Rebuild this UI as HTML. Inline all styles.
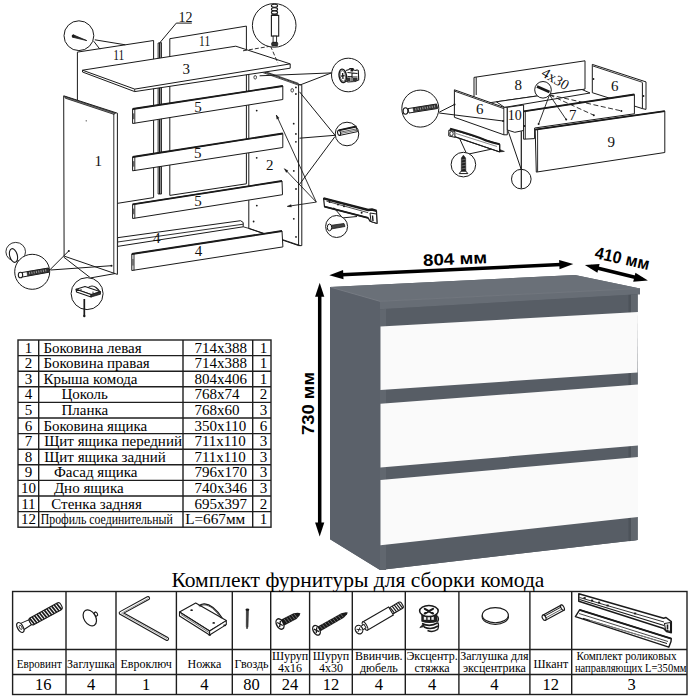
<!DOCTYPE html>
<html><head><meta charset="utf-8"><style>
html,body{margin:0;padding:0;background:#fff;}
svg{display:block;}
</style></head><body>
<svg width="689" height="700" viewBox="0 0 689 700">
<rect width="689" height="700" fill="#fff"/>
<polygon points="330,287 575,275 640,288.5 640,294.3 637.5,294.3 637.5,540 380,570 330,539.2" fill="#5c626a" stroke="none" stroke-width="0" />
<polygon points="330,287 380,301.3 380,570 330,539.2" fill="#5b616a" stroke="none" stroke-width="0" />
<polygon points="330,287 575,275 640,288.5 380,301.3" fill="#6a7078" stroke="none" stroke-width="0" />
<polygon points="380,301.3 640,288.5 640,294.3 380,309.3" fill="#676d75" stroke="none" stroke-width="0" />
<polygon points="380,309.3 637.5,294.3 637.5,540 380,570" fill="#575d65" stroke="none" stroke-width="0" />
<line x1="331" y1="287.3" x2="380" y2="301.3" stroke="#767b83" stroke-width="1"/>
<line x1="380" y1="301.3" x2="640" y2="288.5" stroke="#737880" stroke-width="0.8"/>
<polygon points="380,309.3 386,309 386,570 380,570" fill="#61676f" stroke="none" stroke-width="0" />
<polygon points="631,294.7 637.5,294.3 637.5,540 631,541" fill="#61676e" stroke="none" stroke-width="0" />
<polygon points="628.5,294.9 631,294.7 631,541 628.5,541.3" fill="#4d535a" stroke="none" stroke-width="0" />
<polygon points="380.5,326.6 638,312 637.5,372.4 380.5,390" fill="#fafafa" stroke="none" stroke-width="0" />
<polygon points="380.5,403.75 638,384.6 638,445.5 380.5,467.5" fill="#fafafa" stroke="none" stroke-width="0" />
<polygon points="380.5,480 638,457 638,517 380.5,545.3" fill="#fafafa" stroke="none" stroke-width="0" />
<line x1="336" y1="275" x2="566" y2="264.3" stroke="#000" stroke-width="3.5"/>
<polygon points="329.3,275.3 343.4978155398287,279.2474085039426 343.0722061350684,270.05725852504787" fill="#000" stroke="none" stroke-width="0" />
<polygon points="573.3,264 559.1021844601712,260.0525914960574 559.5277938649315,269.24274147495214" fill="#000" stroke="none" stroke-width="0" />
<line x1="591" y1="266.5" x2="642" y2="279" stroke="#000" stroke-width="3.5"/>
<polygon points="584.9,265 597.383918926966,272.83018315398425 599.5952292108303,263.89989162299395" fill="#000" stroke="none" stroke-width="0" />
<polygon points="647.9,280.6 635.416081073034,272.7698168460158 633.2047707891696,281.7001083770061" fill="#000" stroke="none" stroke-width="0" />
<line x1="319.7" y1="290" x2="319.7" y2="530" stroke="#000" stroke-width="3.5"/>
<polygon points="319.7,282.8 315.09999999999997,296.8 324.3,296.8" fill="#000" stroke="none" stroke-width="0" />
<polygon points="319.7,536.6 324.3,522.6 315.09999999999997,522.6" fill="#000" stroke="none" stroke-width="0" />
<text x="423" y="264.5" font-family="Liberation Sans" font-weight="bold" font-size="16.5" textLength="64" lengthAdjust="spacingAndGlyphs" transform="rotate(-2.6 455 258)">804 мм</text>
<text x="0" y="0" font-family="Liberation Sans" font-weight="bold" font-size="17" textLength="55.5" lengthAdjust="spacingAndGlyphs" transform="translate(594,258) rotate(12.5)">410 мм</text>
<text x="0" y="0" font-family="Liberation Sans" font-weight="bold" font-size="16.5" textLength="63" lengthAdjust="spacingAndGlyphs" transform="translate(314,435) rotate(-90)">730 мм</text>
<rect x="18" y="340" width="253" height="187.20000000000005" fill="none" stroke="#1e1e1e" stroke-width="1.4"/>
<line x1="38.7" y1="340" x2="38.7" y2="527.2" stroke="#1e1e1e" stroke-width="1.4"/>
<line x1="183" y1="340" x2="183" y2="527.2" stroke="#1e1e1e" stroke-width="1.4"/>
<line x1="252.7" y1="340" x2="252.7" y2="527.2" stroke="#1e1e1e" stroke-width="1.4"/>
<line x1="18" y1="355.60" x2="271" y2="355.60" stroke="#1e1e1e" stroke-width="1.4"/>
<line x1="18" y1="371.20" x2="271" y2="371.20" stroke="#1e1e1e" stroke-width="1.4"/>
<line x1="18" y1="386.80" x2="271" y2="386.80" stroke="#1e1e1e" stroke-width="1.4"/>
<line x1="18" y1="402.40" x2="271" y2="402.40" stroke="#1e1e1e" stroke-width="1.4"/>
<line x1="18" y1="418.00" x2="271" y2="418.00" stroke="#1e1e1e" stroke-width="1.4"/>
<line x1="18" y1="433.60" x2="271" y2="433.60" stroke="#1e1e1e" stroke-width="1.4"/>
<line x1="18" y1="449.20" x2="271" y2="449.20" stroke="#1e1e1e" stroke-width="1.4"/>
<line x1="18" y1="464.80" x2="271" y2="464.80" stroke="#1e1e1e" stroke-width="1.4"/>
<line x1="18" y1="480.40" x2="271" y2="480.40" stroke="#1e1e1e" stroke-width="1.4"/>
<line x1="18" y1="496.00" x2="271" y2="496.00" stroke="#1e1e1e" stroke-width="1.4"/>
<line x1="18" y1="511.60" x2="271" y2="511.60" stroke="#1e1e1e" stroke-width="1.4"/>
<text x="28.4" y="352.50" font-family="Liberation Serif" font-size="15" text-anchor="middle">1</text>
<text x="43.4" y="352.50" font-family="Liberation Serif" font-size="15">Боковина левая</text>
<text x="194.4" y="352.50" font-family="Liberation Serif" font-size="15">714x388</text>
<text x="263.4" y="352.50" font-family="Liberation Serif" font-size="15" text-anchor="middle">1</text>
<text x="28.4" y="368.10" font-family="Liberation Serif" font-size="15" text-anchor="middle">2</text>
<text x="43.4" y="368.10" font-family="Liberation Serif" font-size="15">Боковина правая</text>
<text x="194.4" y="368.10" font-family="Liberation Serif" font-size="15">714x388</text>
<text x="263.4" y="368.10" font-family="Liberation Serif" font-size="15" text-anchor="middle">1</text>
<text x="28.4" y="383.70" font-family="Liberation Serif" font-size="15" text-anchor="middle">3</text>
<text x="43.4" y="383.70" font-family="Liberation Serif" font-size="15">Крыша комода</text>
<text x="194.4" y="383.70" font-family="Liberation Serif" font-size="15">804x406</text>
<text x="263.4" y="383.70" font-family="Liberation Serif" font-size="15" text-anchor="middle">1</text>
<text x="28.4" y="399.30" font-family="Liberation Serif" font-size="15" text-anchor="middle">4</text>
<text x="61.5" y="399.30" font-family="Liberation Serif" font-size="15">Цоколь</text>
<text x="194.4" y="399.30" font-family="Liberation Serif" font-size="15">768x74</text>
<text x="263.4" y="399.30" font-family="Liberation Serif" font-size="15" text-anchor="middle">2</text>
<text x="28.4" y="414.90" font-family="Liberation Serif" font-size="15" text-anchor="middle">5</text>
<text x="61.5" y="414.90" font-family="Liberation Serif" font-size="15">Планка</text>
<text x="194.4" y="414.90" font-family="Liberation Serif" font-size="15">768x60</text>
<text x="263.4" y="414.90" font-family="Liberation Serif" font-size="15" text-anchor="middle">3</text>
<text x="28.4" y="430.50" font-family="Liberation Serif" font-size="15" text-anchor="middle">6</text>
<text x="43.4" y="430.50" font-family="Liberation Serif" font-size="15">Боковина ящика</text>
<text x="194.4" y="430.50" font-family="Liberation Serif" font-size="15">350x110</text>
<text x="263.4" y="430.50" font-family="Liberation Serif" font-size="15" text-anchor="middle">6</text>
<text x="28.4" y="446.10" font-family="Liberation Serif" font-size="15" text-anchor="middle">7</text>
<text x="44.2" y="446.10" font-family="Liberation Serif" font-size="15">Щит ящика передний</text>
<text x="194.4" y="446.10" font-family="Liberation Serif" font-size="15">711x110</text>
<text x="263.4" y="446.10" font-family="Liberation Serif" font-size="15" text-anchor="middle">3</text>
<text x="28.4" y="461.70" font-family="Liberation Serif" font-size="15" text-anchor="middle">8</text>
<text x="44.2" y="461.70" font-family="Liberation Serif" font-size="15">Щит ящика задний</text>
<text x="194.4" y="461.70" font-family="Liberation Serif" font-size="15">711x110</text>
<text x="263.4" y="461.70" font-family="Liberation Serif" font-size="15" text-anchor="middle">3</text>
<text x="28.4" y="477.30" font-family="Liberation Serif" font-size="15" text-anchor="middle">9</text>
<text x="53.9" y="477.30" font-family="Liberation Serif" font-size="15">Фасад ящика</text>
<text x="194.4" y="477.30" font-family="Liberation Serif" font-size="15">796x170</text>
<text x="263.4" y="477.30" font-family="Liberation Serif" font-size="15" text-anchor="middle">3</text>
<text x="28.4" y="492.90" font-family="Liberation Serif" font-size="15" text-anchor="middle">10</text>
<text x="53.9" y="492.90" font-family="Liberation Serif" font-size="15">Дно ящика</text>
<text x="194.4" y="492.90" font-family="Liberation Serif" font-size="15">740x346</text>
<text x="263.4" y="492.90" font-family="Liberation Serif" font-size="15" text-anchor="middle">3</text>
<text x="28.4" y="508.50" font-family="Liberation Serif" font-size="15" text-anchor="middle">11</text>
<text x="51.3" y="508.50" font-family="Liberation Serif" font-size="15">Стенка задняя</text>
<text x="194.4" y="508.50" font-family="Liberation Serif" font-size="15">695x397</text>
<text x="263.4" y="508.50" font-family="Liberation Serif" font-size="15" text-anchor="middle">2</text>
<text x="28.4" y="524.10" font-family="Liberation Serif" font-size="15" text-anchor="middle">12</text>
<text x="40.8" y="524.10" font-family="Liberation Serif" font-size="14.5" textLength="132" lengthAdjust="spacingAndGlyphs">Профиль соединительный</text>
<text x="185.2" y="524.10" font-family="Liberation Serif" font-size="15" textLength="60" lengthAdjust="spacingAndGlyphs">L=667мм</text>
<text x="263.4" y="524.10" font-family="Liberation Serif" font-size="15" text-anchor="middle">1</text>
<rect x="12.6" y="591.5" width="674.4" height="103.0" fill="none" stroke="#1e1e1e" stroke-width="1.4"/>
<line x1="66" y1="591.5" x2="66" y2="694.5" stroke="#1e1e1e" stroke-width="1.4"/>
<line x1="116" y1="591.5" x2="116" y2="694.5" stroke="#1e1e1e" stroke-width="1.4"/>
<line x1="176.4" y1="591.5" x2="176.4" y2="694.5" stroke="#1e1e1e" stroke-width="1.4"/>
<line x1="232.3" y1="591.5" x2="232.3" y2="694.5" stroke="#1e1e1e" stroke-width="1.4"/>
<line x1="270.7" y1="591.5" x2="270.7" y2="694.5" stroke="#1e1e1e" stroke-width="1.4"/>
<line x1="309.6" y1="591.5" x2="309.6" y2="694.5" stroke="#1e1e1e" stroke-width="1.4"/>
<line x1="352.3" y1="591.5" x2="352.3" y2="694.5" stroke="#1e1e1e" stroke-width="1.4"/>
<line x1="405.3" y1="591.5" x2="405.3" y2="694.5" stroke="#1e1e1e" stroke-width="1.4"/>
<line x1="458.9" y1="591.5" x2="458.9" y2="694.5" stroke="#1e1e1e" stroke-width="1.4"/>
<line x1="529.9" y1="591.5" x2="529.9" y2="694.5" stroke="#1e1e1e" stroke-width="1.4"/>
<line x1="571.7" y1="591.5" x2="571.7" y2="694.5" stroke="#1e1e1e" stroke-width="1.4"/>
<line x1="12.6" y1="649.5" x2="687" y2="649.5" stroke="#1e1e1e" stroke-width="1.4"/>
<line x1="12.6" y1="674.5" x2="687" y2="674.5" stroke="#1e1e1e" stroke-width="1.4"/>
<text x="171.4" y="586.7" font-family="Liberation Serif" font-size="21.5" textLength="373" lengthAdjust="spacingAndGlyphs">Комплект фурнитуры для сборки комода</text>
<text x="39.3" y="667.5" font-family="Liberation Serif" font-size="12" text-anchor="middle" textLength="45" lengthAdjust="spacingAndGlyphs">Евровинт</text>
<text x="43.3" y="690" font-family="Liberation Serif" font-size="16.5" text-anchor="middle">16</text>
<text x="91.0" y="667.5" font-family="Liberation Serif" font-size="12" text-anchor="middle">Заглушка</text>
<text x="91.0" y="690" font-family="Liberation Serif" font-size="16.5" text-anchor="middle">4</text>
<text x="146.2" y="667.5" font-family="Liberation Serif" font-size="12" text-anchor="middle">Евроключ</text>
<text x="146.2" y="690" font-family="Liberation Serif" font-size="16.5" text-anchor="middle">1</text>
<text x="204.4" y="667.5" font-family="Liberation Serif" font-size="12" text-anchor="middle">Ножка</text>
<text x="204.4" y="690" font-family="Liberation Serif" font-size="16.5" text-anchor="middle">4</text>
<text x="251.5" y="667.5" font-family="Liberation Serif" font-size="12" text-anchor="middle">Гвоздь</text>
<text x="251.5" y="690" font-family="Liberation Serif" font-size="16.5" text-anchor="middle">80</text>
<text x="290.1" y="659.5" font-family="Liberation Serif" font-size="12" text-anchor="middle">Шуруп</text>
<text x="290.1" y="671.5" font-family="Liberation Serif" font-size="12" text-anchor="middle">4x16</text>
<text x="290.1" y="690" font-family="Liberation Serif" font-size="16.5" text-anchor="middle">24</text>
<text x="331.0" y="659.5" font-family="Liberation Serif" font-size="12" text-anchor="middle">Шуруп</text>
<text x="331.0" y="671.5" font-family="Liberation Serif" font-size="12" text-anchor="middle">4x30</text>
<text x="331.0" y="690" font-family="Liberation Serif" font-size="16.5" text-anchor="middle">12</text>
<text x="378.8" y="659.5" font-family="Liberation Serif" font-size="12" text-anchor="middle">Ввинчив.</text>
<text x="378.8" y="671.5" font-family="Liberation Serif" font-size="12" text-anchor="middle">дюбель</text>
<text x="378.8" y="690" font-family="Liberation Serif" font-size="16.5" text-anchor="middle">4</text>
<text x="432.1" y="659.5" font-family="Liberation Serif" font-size="12" text-anchor="middle">Эксцентр.</text>
<text x="432.1" y="671.5" font-family="Liberation Serif" font-size="12" text-anchor="middle">стяжка</text>
<text x="432.1" y="690" font-family="Liberation Serif" font-size="16.5" text-anchor="middle">4</text>
<text x="494.4" y="659.5" font-family="Liberation Serif" font-size="12" text-anchor="middle">Заглушка для</text>
<text x="494.4" y="671.5" font-family="Liberation Serif" font-size="12" text-anchor="middle">эксцентрика</text>
<text x="494.4" y="690" font-family="Liberation Serif" font-size="16.5" text-anchor="middle">4</text>
<text x="550.8" y="667.5" font-family="Liberation Serif" font-size="12" text-anchor="middle">Шкант</text>
<text x="550.8" y="690" font-family="Liberation Serif" font-size="16.5" text-anchor="middle">12</text>
<text x="626.5" y="659.5" font-family="Liberation Serif" font-size="12" text-anchor="middle" textLength="100" lengthAdjust="spacingAndGlyphs">Комплект роликовых</text>
<text x="630.7" y="671.5" font-family="Liberation Serif" font-size="12" text-anchor="middle" textLength="111.5" lengthAdjust="spacingAndGlyphs">направляющих L=350мм</text>
<text x="631.5" y="690" font-family="Liberation Serif" font-size="16.5" text-anchor="middle">3</text>
<polygon points="77.4,52.1 153.6,40.5 153.6,197.6 117.1,203.4 77.4,209" fill="#fff" stroke="#1a1a1a" stroke-width="1.0" stroke-linejoin="round" />
<polygon points="158.1,43 161.5,42.6 161.5,194 158.1,194" fill="#fff" stroke="#1a1a1a" stroke-width="0.9" stroke-linejoin="round" />
<line x1="159.7" y1="43" x2="159.7" y2="194" stroke="#1a1a1a" stroke-width="1.6" />
<polygon points="169.8,38.7 246.4,26.1 246.4,183.8 169.8,195.4" fill="#fff" stroke="#1a1a1a" stroke-width="1.0" stroke-linejoin="round" />
<polygon points="248.8,66.4 298.6,84.2 301.8,85.2 301.8,245.6 298.6,245.6 248.8,228.5" fill="#fff" stroke="#1a1a1a" stroke-width="1.0" stroke-linejoin="round" />
<line x1="251" y1="66.6" x2="298.6" y2="83.4" stroke="#1a1a1a" stroke-width="0.8" />
<line x1="251" y1="68.4" x2="298.6" y2="85.2" stroke="#1a1a1a" stroke-width="0.8" />
<line x1="252" y1="67.5" x2="298" y2="84.2" stroke="#555" stroke-width="1" stroke-dasharray="3 2"/>
<line x1="298.6" y1="84.2" x2="298.6" y2="245.6" stroke="#1a1a1a" stroke-width="1.0" />
<circle cx="256.8" cy="205.6" r="0.9" fill="#1a1a1a"/>
<circle cx="253.6" cy="221.5" r="0.9" fill="#1a1a1a"/>
<circle cx="293.8" cy="170.9" r="0.9" fill="#1a1a1a"/>
<circle cx="296" cy="189" r="0.9" fill="#1a1a1a"/>
<circle cx="293.8" cy="218.8" r="0.9" fill="#1a1a1a"/>
<circle cx="296" cy="236.9" r="0.9" fill="#1a1a1a"/>
<circle cx="256.7" cy="110.6" r="0.9" fill="#1a1a1a"/>
<circle cx="293.7" cy="123.7" r="0.9" fill="#1a1a1a"/>
<circle cx="295.9" cy="133.9" r="0.9" fill="#1a1a1a"/>
<circle cx="295.9" cy="141.8" r="0.9" fill="#1a1a1a"/>
<circle cx="256.7" cy="157.8" r="0.9" fill="#1a1a1a"/>
<circle cx="295.9" cy="94" r="0.9" fill="#1a1a1a"/>
<circle cx="295.9" cy="87.4" r="0.9" fill="#1a1a1a"/>
<ellipse cx="255.2" cy="77.3" rx="1.3" ry="1.8" fill="none" stroke="#1a1a1a" stroke-width="0.8"/>
<ellipse cx="292.2" cy="90.3" rx="1.3" ry="1.8" fill="none" stroke="#1a1a1a" stroke-width="0.8"/>
<polygon points="117.6,237.7 240.6,220.7 243.2,222.5 243.2,226.8 117.6,246.4" fill="#fff" stroke="#1a1a1a" stroke-width="1.0" stroke-linejoin="round" />
<line x1="117.6" y1="242" x2="243.2" y2="224.2" stroke="#1a1a1a" stroke-width="0.9" />
<line x1="243.2" y1="226.8" x2="249.3" y2="228.5" stroke="#1a1a1a" stroke-width="0.9" />
<line x1="249.3" y1="228.5" x2="300.3" y2="245.6" stroke="#1a1a1a" stroke-width="1.0" />
<polygon points="82.5,70.2 235.8,46.2 290.2,63.9 290.2,68.2 134.7,91.6 82.5,72" fill="#fff" stroke="#1a1a1a" stroke-width="1.0" stroke-linejoin="round" />
<polyline points="82.5,70.2 134.7,89.1 290.2,63.9" fill="none" stroke="#1a1a1a" stroke-width="1.0" stroke-linejoin="round" />
<line x1="134.7" y1="89.1" x2="134.7" y2="91.6" stroke="#1a1a1a" stroke-width="0.9" />
<polygon points="132.6,109 282.8,86 282.8,99.5 132.6,123.5" fill="#fff" stroke="#1a1a1a" stroke-width="1.0" stroke-linejoin="round" />
<line x1="132.6" y1="109" x2="282.8" y2="86" stroke="#1a1a1a" stroke-width="1.8" />
<line x1="134.79999999999998" y1="108.96311584553928" x2="134.79999999999998" y2="123.5" stroke="#1a1a1a" stroke-width="0.9" />
<rect x="133.2" y="113.35" width="1.1" height="5.80" fill="#444"/>
<polygon points="132.6,157 282.8,133.5 282.8,147.5 132.6,170.8" fill="#fff" stroke="#1a1a1a" stroke-width="1.0" stroke-linejoin="round" />
<line x1="132.6" y1="157" x2="282.8" y2="133.5" stroke="#1a1a1a" stroke-width="1.8" />
<line x1="134.79999999999998" y1="156.95579227696405" x2="134.79999999999998" y2="170.8" stroke="#1a1a1a" stroke-width="0.9" />
<rect x="133.2" y="161.14" width="1.1" height="5.52" fill="#444"/>
<polygon points="132.6,204.3 282,181 282.5,194.7 132.6,218.5" fill="#fff" stroke="#1a1a1a" stroke-width="1.0" stroke-linejoin="round" />
<line x1="132.6" y1="204.3" x2="282" y2="181" stroke="#1a1a1a" stroke-width="1.8" />
<line x1="134.79999999999998" y1="204.25689424364126" x2="134.79999999999998" y2="218.5" stroke="#1a1a1a" stroke-width="0.9" />
<rect x="133.2" y="208.56" width="1.1" height="5.68" fill="#444"/>
<polygon points="131.8,254 282,231 282.9,246.9 131.8,270.5" fill="#fff" stroke="#1a1a1a" stroke-width="1.0" stroke-linejoin="round" />
<line x1="131.8" y1="254" x2="282" y2="231" stroke="#1a1a1a" stroke-width="1.8" />
<line x1="134.0" y1="253.9631158455393" x2="134.0" y2="270.5" stroke="#1a1a1a" stroke-width="0.9" />
<rect x="132.4" y="258.95" width="1.1" height="6.60" fill="#444"/>
<polygon points="63.7,95.8 117.4,113.2 117.4,274.4 64.1,256.1" fill="#fff" stroke="#1a1a1a" stroke-width="1.0" stroke-linejoin="round" />
<polygon points="64.5,96.5 115.5,113.3 113.8,114.3 65.3,98.2" fill="#888" stroke="#1a1a1a" stroke-width="0.8" stroke-linejoin="round" />
<line x1="113.8" y1="114" x2="113.8" y2="273.2" stroke="#1a1a1a" stroke-width="0.9" />
<circle cx="86.2" cy="120.8" r="0.6" fill="#1a1a1a"/>
<text x="118.8" y="59.5" font-family="Liberation Serif" font-size="14.5" text-anchor="middle" fill="#111" textLength="11" lengthAdjust="spacingAndGlyphs">11</text>
<text x="204.6" y="46.3" font-family="Liberation Serif" font-size="14.5" text-anchor="middle" fill="#111" textLength="11" lengthAdjust="spacingAndGlyphs">11</text>
<text x="186.2" y="74.2" font-family="Liberation Serif" font-size="15" text-anchor="middle" fill="#111" >3</text>
<text x="98.3" y="165.7" font-family="Liberation Serif" font-size="15" text-anchor="middle" fill="#111" >1</text>
<text x="198" y="111.9" font-family="Liberation Serif" font-size="15" text-anchor="middle" fill="#111" >5</text>
<text x="197.8" y="158.4" font-family="Liberation Serif" font-size="15" text-anchor="middle" fill="#111" >5</text>
<text x="198" y="206.4" font-family="Liberation Serif" font-size="15" text-anchor="middle" fill="#111" >5</text>
<text x="156.8" y="242.9" font-family="Liberation Serif" font-size="15" text-anchor="middle" fill="#111" >4</text>
<text x="198.5" y="255.7" font-family="Liberation Serif" font-size="15" text-anchor="middle" fill="#111" >4</text>
<text x="269.8" y="170" font-family="Liberation Serif" font-size="15" text-anchor="middle" fill="#111" >2</text>
<text x="185.5" y="21.8" font-family="Liberation Serif" font-size="14" text-anchor="middle" fill="#111" >12</text>
<polyline points="159.6,43 176.3,23.1 191.8,23.1" fill="none" stroke="#1a1a1a" stroke-width="1.0" stroke-linejoin="round" />
<line x1="94.8" y1="39.8" x2="125.3" y2="44.8" stroke="#1a1a1a" stroke-width="1.0" />
<line x1="93.7" y1="41.2" x2="99.9" y2="49.2" stroke="#1a1a1a" stroke-width="1.0" />
<circle cx="78.9" cy="35.7" r="14.9" fill="#fff" stroke="#1a1a1a" stroke-width="1.0"/>
<path d="M73.2,34.8 L86.8,40.6 L72.6,37.2 Z" fill="#2a2a2a" stroke="#1a1a1a" stroke-width="0.8" stroke-linejoin="round"/>
<circle cx="73.2" cy="36" r="1.5" fill="#1a1a1a"/>
<line x1="243" y1="50.8" x2="270.6" y2="46.2" stroke="#1a1a1a" stroke-width="0.9" stroke-dasharray="4 2"/>
<line x1="270.6" y1="46.2" x2="277.9" y2="63.1" stroke="#1a1a1a" stroke-width="0.9" stroke-dasharray="4 2"/>
<circle cx="274.2" cy="25.4" r="21.8" fill="#fff" stroke="#1a1a1a" stroke-width="1.0"/>
<rect x="271.4" y="15.4" width="7.3" height="20.7" fill="#fff" stroke="#1a1a1a" stroke-width="1.1"/>
<rect x="273.1" y="36.1" width="3.5" height="6.4" fill="#fff" stroke="#1a1a1a" stroke-width="0.9"/>
<rect x="271.7" y="42.3" width="6" height="3.6" rx="1" fill="#333" stroke="#1a1a1a" stroke-width="0.8"/>
<ellipse cx="274.5" cy="5.8" rx="3.1" ry="1.6" fill="#fff" stroke="#1a1a1a" stroke-width="1.1"/>
<ellipse cx="274.5" cy="9.2" rx="3.1" ry="1.6" fill="#fff" stroke="#1a1a1a" stroke-width="1.1"/>
<ellipse cx="274.5" cy="12.5" rx="3.1" ry="1.6" fill="#fff" stroke="#1a1a1a" stroke-width="1.1"/>
<rect x="271.4" y="14.2" width="6.5" height="1.6" fill="#1a1a1a"/>
<line x1="259.6" y1="75.8" x2="331.4" y2="72.9" stroke="#1a1a1a" stroke-width="1.0" />
<line x1="299.5" y1="85.2" x2="331.4" y2="72.9" stroke="#1a1a1a" stroke-width="1.0" />
<circle cx="348.3" cy="75" r="16.8" fill="#fff" stroke="#1a1a1a" stroke-width="1.0"/>
<path d="M346,70.5 L349,69.5 L350,68.5 L353,68.5 L353.5,70 L356,70.5 L357,69.8 L358.3,70.5 L358.7,80 L355,81.5 L348,82 L346,81" fill="#fff" stroke="#1a1a1a" stroke-width="1.1"/>
<rect x="350.5" y="68.5" width="2.6" height="3" fill="#1a1a1a"/>
<path d="M347.5,72.5 L357.5,73.5 M347.5,76.5 L357.5,77 M352,73 L352,81.5" stroke="#1a1a1a" stroke-width="1.1" fill="none"/>
<rect x="347" y="77.5" width="3.5" height="3.8" fill="#333"/>
<rect x="353" y="78" width="4.5" height="3" fill="#333"/>
<ellipse cx="342.8" cy="75.9" rx="3.7" ry="6.8" fill="#fff" stroke="#1a1a1a" stroke-width="1.4" transform="rotate(-8 342.8 75.9)"/>
<ellipse cx="342.8" cy="75.9" rx="2.6" ry="5.4" fill="none" stroke="#1a1a1a" stroke-width="0.6" transform="rotate(-8 342.8 75.9)"/>
<line x1="341" y1="76.2" x2="344.6" y2="75.6" stroke="#1a1a1a" stroke-width="1.3" />
<line x1="342.6" y1="73" x2="343" y2="79" stroke="#1a1a1a" stroke-width="1.3" />
<line x1="299.5" y1="91.8" x2="335" y2="135.3" stroke="#1a1a1a" stroke-width="1.0" />
<line x1="299.5" y1="138.2" x2="335" y2="135.3" stroke="#1a1a1a" stroke-width="1.0" />
<line x1="299" y1="185" x2="335" y2="136.5" stroke="#1a1a1a" stroke-width="1.0" />
<circle cx="347" cy="134" r="11.8" fill="#fff" stroke="#1a1a1a" stroke-width="1.0"/>
<polygon points="338.6,130.3 356,126.6 357.6,131.6 339.8,135.4" fill="#fff" stroke="#1a1a1a" stroke-width="1.0" stroke-linejoin="round" />
<line x1="338.6" y1="130.3" x2="356.5" y2="126.5" stroke="#1a1a1a" stroke-width="1.8" />
<line x1="341" y1="132" x2="357" y2="128.8" stroke="#1a1a1a" stroke-width="0.7" />
<line x1="341" y1="133.4" x2="357" y2="130.2" stroke="#1a1a1a" stroke-width="0.6" />
<ellipse cx="339.1" cy="132.9" rx="1.5" ry="2.5" fill="#fff" stroke="#1a1a1a" stroke-width="1.1" transform="rotate(-12 339.1 132.9)"/>
<line x1="316.3" y1="202.1" x2="276.3" y2="115" stroke="#1a1a1a" stroke-width="0.9" /><polygon points="276.3,115 279.1507259547731,118.0924685173471 276.78797149985263,119.17754519010046" fill="#1a1a1a" stroke="#1a1a1a" stroke-width="0.3" stroke-linejoin="round" />
<line x1="316.3" y1="202.1" x2="284.4" y2="168.7" stroke="#1a1a1a" stroke-width="0.9" /><polygon points="284.4,168.7 288.10283336568335,170.69474937422763 286.22262023578077,172.4905217947035" fill="#1a1a1a" stroke="#1a1a1a" stroke-width="0.3" stroke-linejoin="round" />
<line x1="316.3" y1="202.1" x2="287.3" y2="206.4" stroke="#1a1a1a" stroke-width="0.9" /><polygon points="287.3,206.4 291.0660665991887,204.52737019929845 291.4474145258161,207.099251564925" fill="#1a1a1a" stroke="#1a1a1a" stroke-width="0.3" stroke-linejoin="round" />
<polygon points="323.6,198.4 368.1,210 371.9,209.5 376.5,210.9 377,223.4 370,221.1 368.1,217.9 324.5,206.7" fill="#fff" stroke="#1a1a1a" stroke-width="1.2" stroke-linejoin="round" />
<polyline points="323.6,198.4 368.1,210 371.9,209.5 376.5,210.9" fill="none" stroke="#1a1a1a" stroke-width="2.4" stroke-linejoin="round" />
<line x1="324.5" y1="206.7" x2="368.1" y2="217.9" stroke="#1a1a1a" stroke-width="1.8" />
<line x1="326.4" y1="201.1" x2="368.1" y2="212.7" stroke="#1a1a1a" stroke-width="0.8" />
<circle cx="329.6" cy="202.1" r="1.0" fill="#1a1a1a"/>
<circle cx="338" cy="204.4" r="1.0" fill="#1a1a1a"/>
<circle cx="344" cy="206.2" r="1.0" fill="#1a1a1a"/>
<circle cx="361.6" cy="212.7" r="1.0" fill="#1a1a1a"/>
<polygon points="370,213 376.5,214 377,223.4 371,221.5" fill="#fff" stroke="#1a1a1a" stroke-width="1.0" stroke-linejoin="round" />
<line x1="372.5" y1="215.5" x2="373" y2="221" stroke="#1a1a1a" stroke-width="1.4" />
<line x1="333.8" y1="207.6" x2="342.6" y2="217.9" stroke="#1a1a1a" stroke-width="1.0" />
<line x1="342.6" y1="217.9" x2="357" y2="216.5" stroke="#1a1a1a" stroke-width="1.0" />
<circle cx="336.6" cy="226.5" r="11" fill="#fff" stroke="#1a1a1a" stroke-width="1.0"/>
<polygon points="330,225.5 344,223.5 345,226.5 331,229" fill="#444" stroke="#1a1a1a" stroke-width="0.8" stroke-linejoin="round" />
<ellipse cx="329.5" cy="227.4" rx="2.2" ry="3.4" fill="#fff" stroke="#1a1a1a" stroke-width="1"/>
<line x1="49.7" y1="270" x2="68.8" y2="250.9" stroke="#1a1a1a" stroke-width="1.0" />
<circle cx="68.8" cy="250.9" r="1" fill="#1a1a1a"/>
<line x1="50.5" y1="270" x2="111.5" y2="265.7" stroke="#1a1a1a" stroke-width="1.0" />
<circle cx="111.5" cy="265.7" r="1" fill="#1a1a1a"/>
<line x1="63.6" y1="257" x2="90.6" y2="277.9" stroke="#1a1a1a" stroke-width="1.0" />
<line x1="90.6" y1="277.9" x2="115" y2="273.6" stroke="#1a1a1a" stroke-width="1.0" />
<ellipse cx="15.7" cy="251.8" rx="9.8" ry="9.4" fill="none" stroke="#1a1a1a" stroke-width="0.9"/>
<ellipse cx="13.5" cy="255.5" rx="3.8" ry="7" fill="#fff" stroke="#1a1a1a" stroke-width="1.1" transform="rotate(-15 13.5 255.5)"/>
<circle cx="32.2" cy="271.8" r="17.5" fill="#fff" stroke="#1a1a1a" stroke-width="1.0"/>
<polygon points="22,272.5 48.5,268 49,272.2 22.5,277" fill="#fff" stroke="#1a1a1a" stroke-width="1" stroke-linejoin="round" />
<polygon points="27,271.8 48,268.3 48.6,272 27.6,275.8" fill="#333" stroke="#1a1a1a" stroke-width="0.6" stroke-linejoin="round" />
<line x1="29.40" y1="272.05" x2="29.70" y2="274.25" stroke="#ddd" stroke-width="0.6"/>
<line x1="31.71" y1="271.67" x2="32.01" y2="273.87" stroke="#ddd" stroke-width="0.6"/>
<line x1="34.02" y1="271.28" x2="34.32" y2="273.48" stroke="#ddd" stroke-width="0.6"/>
<line x1="36.33" y1="270.90" x2="36.63" y2="273.10" stroke="#ddd" stroke-width="0.6"/>
<line x1="38.64" y1="270.51" x2="38.94" y2="272.71" stroke="#ddd" stroke-width="0.6"/>
<line x1="40.95" y1="270.13" x2="41.25" y2="272.33" stroke="#ddd" stroke-width="0.6"/>
<line x1="43.26" y1="269.74" x2="43.56" y2="271.94" stroke="#ddd" stroke-width="0.6"/>
<line x1="45.57" y1="269.36" x2="45.87" y2="271.56" stroke="#ddd" stroke-width="0.6"/>
<ellipse cx="20.5" cy="275" rx="2.2" ry="2.8" fill="#fff" stroke="#1a1a1a" stroke-width="1.1"/>
<circle cx="87.1" cy="293.6" r="16" fill="#fff" stroke="#1a1a1a" stroke-width="1.0"/>
<polygon points="76.1,289.3 85,286.5 100.5,291.8 91,294.6" fill="#fff" stroke="#1a1a1a" stroke-width="1.1" stroke-linejoin="round" />
<polygon points="76.1,289.3 91,294.6 91,297 76.5,291.9" fill="#fff" stroke="#1a1a1a" stroke-width="1.1" stroke-linejoin="round" />
<polygon points="91,294.6 100.5,291.8 100.5,294.2 91,297" fill="#333" stroke="#1a1a1a" stroke-width="0.8" stroke-linejoin="round" />
<path d="M88,287.6 Q92,284.5 96,287.5 Q98.5,289.5 99.5,291.3" fill="none" stroke="#1a1a1a" stroke-width="1.1"/>
<circle cx="81" cy="289.5" r="0.6" fill="#1a1a1a"/>
<circle cx="93" cy="292.2" r="0.6" fill="#1a1a1a"/>
<line x1="84.3" y1="299" x2="84.3" y2="315.5" stroke="#1a1a1a" stroke-width="1.7" />
<circle cx="84.3" cy="316" r="1.2" fill="#1a1a1a"/>
<polygon points="474,77.4 585,60.8 585,89.1 474,105" fill="#fff" stroke="#1a1a1a" stroke-width="1.0" stroke-linejoin="round" />
<line x1="476.2" y1="77.2" x2="476.2" y2="95" stroke="#1a1a1a" stroke-width="1.0" />
<polygon points="592.3,64.4 646,81.9 646,109.4 642.4,108.6 592.3,92.7" fill="#fff" stroke="#1a1a1a" stroke-width="1.0" stroke-linejoin="round" />
<line x1="593" y1="66" x2="642.4" y2="82.3" stroke="#1a1a1a" stroke-width="0.9" />
<line x1="642.4" y1="82.6" x2="642.4" y2="108.6" stroke="#1a1a1a" stroke-width="1.0" />
<circle cx="593.5" cy="79" r="0.9" fill="#1a1a1a"/>
<circle cx="643.5" cy="96" r="0.9" fill="#1a1a1a"/>
<polygon points="496.4,101.8 582,89.5 590,93 504.6,107.4" fill="#fff" stroke="#1a1a1a" stroke-width="1.0" stroke-linejoin="round" />
<polygon points="454.4,89.8 503.8,107.3 507.3,107.3 507.3,134.8 503.9,134.8 454.4,117.3" fill="#fff" stroke="#1a1a1a" stroke-width="1.0" stroke-linejoin="round" />
<line x1="455" y1="91.3" x2="503.8" y2="108.6" stroke="#1a1a1a" stroke-width="0.9" />
<line x1="503.8" y1="107.3" x2="503.8" y2="134.8" stroke="#1a1a1a" stroke-width="0.9" />
<circle cx="454.5" cy="104.4" r="1" fill="#1a1a1a"/>
<circle cx="503.1" cy="121" r="1" fill="#1a1a1a"/>
<polygon points="507.3,107.3 523.6,105 523.6,130.5 514.8,132.3 507.3,130" fill="#fff" stroke="#1a1a1a" stroke-width="1.0" stroke-linejoin="round" />
<polygon points="523.6,111.4 634.4,94.5 634.4,113.8 534.6,128 534.6,138.6 523.6,139.2" fill="#fff" stroke="#1a1a1a" stroke-width="1.0" stroke-linejoin="round" />
<line x1="523.6" y1="111.4" x2="634.4" y2="94.5" stroke="#1a1a1a" stroke-width="1.8" />
<line x1="525.3" y1="112" x2="525.3" y2="139" stroke="#1a1a1a" stroke-width="0.9" />
<circle cx="524.5" cy="126" r="0.9" fill="#1a1a1a"/>
<polygon points="535.2,129.6 664.8,111.1 664.8,152.5 536.3,172.1" fill="#fff" stroke="#1a1a1a" stroke-width="1.0" stroke-linejoin="round" />
<line x1="535.2" y1="129.6" x2="664.8" y2="111.1" stroke="#1a1a1a" stroke-width="1.8" />
<line x1="537.6" y1="130" x2="537.6" y2="171.8" stroke="#1a1a1a" stroke-width="0.9" />
<line x1="549.5" y1="94.9" x2="538.6" y2="123.9" stroke="#1a1a1a" stroke-width="0.9" />
<circle cx="538.6" cy="123.9" r="1" fill="#1a1a1a"/>
<line x1="549.5" y1="94.9" x2="566.2" y2="119.6" stroke="#1a1a1a" stroke-width="0.9" />
<circle cx="566.2" cy="119.6" r="1" fill="#1a1a1a"/>
<line x1="549.5" y1="94.9" x2="621.4" y2="110.9" stroke="#1a1a1a" stroke-width="0.9" stroke-dasharray="5 2.5"/>
<circle cx="621.4" cy="110.9" r="1" fill="#1a1a1a"/>
<line x1="549.5" y1="94.9" x2="593.8" y2="115.2" stroke="#1a1a1a" stroke-width="0.9" stroke-dasharray="5 2.5"/>
<circle cx="593.8" cy="115.2" r="1" fill="#1a1a1a"/>
<circle cx="543" cy="89.8" r="8.3" fill="#fff" stroke="#1a1a1a" stroke-width="1.0"/>
<line x1="537" y1="86.5" x2="549.5" y2="92" stroke="#1a1a1a" stroke-width="2.6" />
<line x1="439.2" y1="112.2" x2="454.9" y2="104.3" stroke="#1a1a1a" stroke-width="1.0" />
<line x1="439.2" y1="113" x2="503.1" y2="121" stroke="#1a1a1a" stroke-width="1.0" />
<circle cx="420.3" cy="108.6" r="18.5" fill="#fff" stroke="#1a1a1a" stroke-width="1.0"/>
<polygon points="408,108.6 436.5,104 437.5,108.5 409,113" fill="#fff" stroke="#1a1a1a" stroke-width="1" stroke-linejoin="round" />
<polygon points="413,108 436.5,104.3 437.2,108.2 413.7,111.8" fill="#333" stroke="#1a1a1a" stroke-width="0.5" stroke-linejoin="round" />
<line x1="415.65" y1="108.23" x2="415.95" y2="110.43" stroke="#ddd" stroke-width="0.6"/>
<line x1="418.00" y1="107.86" x2="418.30" y2="110.06" stroke="#ddd" stroke-width="0.6"/>
<line x1="420.35" y1="107.49" x2="420.65" y2="109.69" stroke="#ddd" stroke-width="0.6"/>
<line x1="422.70" y1="107.12" x2="423.00" y2="109.32" stroke="#ddd" stroke-width="0.6"/>
<line x1="425.05" y1="106.75" x2="425.35" y2="108.95" stroke="#ddd" stroke-width="0.6"/>
<line x1="427.40" y1="106.38" x2="427.70" y2="108.58" stroke="#ddd" stroke-width="0.6"/>
<line x1="429.75" y1="106.01" x2="430.05" y2="108.21" stroke="#ddd" stroke-width="0.6"/>
<line x1="432.10" y1="105.64" x2="432.40" y2="107.84" stroke="#ddd" stroke-width="0.6"/>
<line x1="434.45" y1="105.27" x2="434.75" y2="107.47" stroke="#ddd" stroke-width="0.6"/>
<ellipse cx="405.5" cy="111" rx="2.4" ry="3.2" fill="#fff" stroke="#1a1a1a" stroke-width="1.1"/>
<polygon points="450.2,128.8 499.7,144.3 499.7,151.9 454.9,136.8 449,135" fill="#fff" stroke="#1a1a1a" stroke-width="1.0" stroke-linejoin="round" />
<path d="M450.2,128.8 Q475,135.5 486,140.5 Q492,142.5 499.7,144.3" fill="none" stroke="#1a1a1a" stroke-width="2.2"/>
<line x1="456" y1="133.5" x2="497" y2="146.5" stroke="#1a1a1a" stroke-width="0.5" />
<line x1="454.9" y1="136.8" x2="499.7" y2="151.9" stroke="#1a1a1a" stroke-width="1.1" />
<line x1="499.7" y1="144.3" x2="499.7" y2="151.9" stroke="#1a1a1a" stroke-width="1.1" />
<polygon points="499.7,151.9 504.4,151.4 499.7,149.5" fill="#1a1a1a" stroke="#1a1a1a" stroke-width="0.6" stroke-linejoin="round" />
<polygon points="448.8,130.2 454.9,131.5 454.9,137.3 448.8,136" fill="#fff" stroke="#1a1a1a" stroke-width="1.0" stroke-linejoin="round" />
<ellipse cx="451.5" cy="133.6" rx="1.7" ry="2.2" fill="none" stroke="#1a1a1a" stroke-width="0.9"/>
<line x1="459.6" y1="138.5" x2="466.9" y2="154.4" stroke="#1a1a1a" stroke-width="1.0" />
<line x1="466.9" y1="154.4" x2="490.8" y2="149.3" stroke="#1a1a1a" stroke-width="1.0" />
<circle cx="463.4" cy="164.6" r="12.3" fill="#fff" stroke="#1a1a1a" stroke-width="1.0"/>
<path d="M463.4,155.2 L465.6,158 L465.8,171.2 L461.3,171.2 L461.4,158 Z" fill="#222" stroke="#1a1a1a" stroke-width="0.6"/>
<line x1="461.6" y1="160" x2="465.6" y2="159.2" stroke="#aaa" stroke-width="0.5"/>
<line x1="461.6" y1="163" x2="465.6" y2="162.2" stroke="#aaa" stroke-width="0.5"/>
<line x1="461.6" y1="166" x2="465.6" y2="165.2" stroke="#aaa" stroke-width="0.5"/>
<line x1="461.6" y1="169" x2="465.6" y2="168.2" stroke="#aaa" stroke-width="0.5"/>
<polygon points="461,171.2 466,171.2 467.8,173.6 459.2,173.6" fill="#fff" stroke="#1a1a1a" stroke-width="1.0" stroke-linejoin="round" />
<line x1="508.2" y1="131.2" x2="521.3" y2="169.7" stroke="#1a1a1a" stroke-width="1.0" />
<circle cx="521.3" cy="179.1" r="9.8" fill="#fff" stroke="#1a1a1a" stroke-width="1.0"/>
<line x1="521.3" y1="131.2" x2="521.3" y2="188.5" stroke="#1a1a1a" stroke-width="1.2" />
<text x="518.3" y="89.9" font-family="Liberation Serif" font-size="15" text-anchor="middle" fill="#111" >8</text>
<text x="479.8" y="113.7" font-family="Liberation Serif" font-size="15" text-anchor="middle" fill="#111" >6</text>
<text x="614.8" y="91.4" font-family="Liberation Serif" font-size="15" text-anchor="middle" fill="#111" >6</text>
<text x="572.7" y="119.6" font-family="Liberation Serif" font-size="15" text-anchor="middle" fill="#111" >7</text>
<text x="514.7" y="120" font-family="Liberation Serif" font-size="15" text-anchor="middle" fill="#111" textLength="14" lengthAdjust="spacingAndGlyphs">10</text>
<text x="611.2" y="146.7" font-family="Liberation Serif" font-size="15" text-anchor="middle" fill="#111" >9</text>
<text x="0" y="0" font-family="Liberation Serif" font-size="14.5" text-anchor="middle" fill="#111" transform="translate(553,83) rotate(31)">4x30</text>
<g transform="translate(19.5 628) rotate(-28.5)"><path d="M2,-3.6 L12,-2.8 L12,2.8 L2,3.6 Z" fill="#fff" stroke="#1a1a1a" stroke-width="1"/><rect x="12" y="-3.9" width="35.5" height="7.8" rx="2.5" fill="#fff" stroke="#1a1a1a" stroke-width="1.1"/><line x1="13.5" y1="-3.9" x2="14.9" y2="3.9" stroke="#1a1a1a" stroke-width="1.7"/><line x1="16.3" y1="-3.9" x2="17.7" y2="3.9" stroke="#1a1a1a" stroke-width="1.7"/><line x1="19.1" y1="-3.9" x2="20.5" y2="3.9" stroke="#1a1a1a" stroke-width="1.7"/><line x1="21.9" y1="-3.9" x2="23.299999999999997" y2="3.9" stroke="#1a1a1a" stroke-width="1.7"/><line x1="24.7" y1="-3.9" x2="26.099999999999998" y2="3.9" stroke="#1a1a1a" stroke-width="1.7"/><line x1="27.5" y1="-3.9" x2="28.9" y2="3.9" stroke="#1a1a1a" stroke-width="1.7"/><line x1="30.299999999999997" y1="-3.9" x2="31.699999999999996" y2="3.9" stroke="#1a1a1a" stroke-width="1.7"/><line x1="33.099999999999994" y1="-3.9" x2="34.49999999999999" y2="3.9" stroke="#1a1a1a" stroke-width="1.7"/><line x1="35.9" y1="-3.9" x2="37.3" y2="3.9" stroke="#1a1a1a" stroke-width="1.7"/><line x1="38.7" y1="-3.9" x2="40.1" y2="3.9" stroke="#1a1a1a" stroke-width="1.7"/><line x1="41.5" y1="-3.9" x2="42.9" y2="3.9" stroke="#1a1a1a" stroke-width="1.7"/><line x1="44.3" y1="-3.9" x2="45.699999999999996" y2="3.9" stroke="#1a1a1a" stroke-width="1.7"/><ellipse cx="1" cy="0" rx="2.8" ry="5.4" fill="#fff" stroke="#1a1a1a" stroke-width="1.2"/><ellipse cx="1.3" cy="0" rx="1.2" ry="2.2" fill="none" stroke="#1a1a1a" stroke-width="0.8"/></g>
<g transform="translate(89.8 617.9) rotate(-32)"><rect x="3" y="-1.6" width="5" height="3.4" fill="#fff" stroke="#1a1a1a" stroke-width="1"/><ellipse cx="7.2" cy="0" rx="1.5" ry="2.1" fill="#fff" stroke="#1a1a1a" stroke-width="1.1"/><ellipse cx="0" cy="0" rx="5.8" ry="8.6" fill="#fff" stroke="#1a1a1a" stroke-width="1.2"/></g>
<polyline points="148,598.2 120.8,613 167,638.8" fill="none" stroke="#1a1a1a" stroke-width="4.2" stroke-linecap="round" stroke-linejoin="round"/>
<polyline points="148,598.2 120.8,613 167,638.8" fill="none" stroke="#fff" stroke-width="2.0" stroke-linecap="round" stroke-linejoin="round"/>
<polyline points="148,598.6 121.5,613.2 167,638.6" fill="none" stroke="#666" stroke-width="0.6" stroke-linejoin="round"/>
<polygon points="179.5,612 195.7,603 226.3,620.6 209.6,631" fill="#fff" stroke="#1a1a1a" stroke-width="1.1" stroke-linejoin="round" />
<polygon points="179.5,612 209.6,631 209.6,635 179.5,616" fill="#fff" stroke="#1a1a1a" stroke-width="1.1" stroke-linejoin="round" />
<polygon points="209.6,631 226.3,620.6 226.3,624.6 209.6,635" fill="#fff" stroke="#1a1a1a" stroke-width="1.1" stroke-linejoin="round" />
<line x1="181" y1="614.5" x2="209" y2="632.5" stroke="#1a1a1a" stroke-width="0.6" />
<path d="M198.8,606.2 C201.5,602.8 207,603 213,607.5 Q218.5,612 222.2,618" fill="none" stroke="#1a1a1a" stroke-width="1.2"/>
<path d="M199.8,606.8 C202.5,604 207,604.3 212.5,608.3 Q217.5,612.5 221,618.3" fill="none" stroke="#1a1a1a" stroke-width="0.7"/>
<ellipse cx="191.6" cy="610.2" rx="1.3" ry="0.9" fill="#1a1a1a"/>
<ellipse cx="213.7" cy="622.9" rx="1.3" ry="0.9" fill="#1a1a1a"/>
<rect x="208.5" y="634" width="2.5" height="1.6" fill="#1a1a1a"/>
<rect x="223.5" y="624.5" width="2.5" height="1.6" fill="#1a1a1a"/>
<path d="M246.4,610.5 L248.4,610.5 L248,626.5 L247,629 L246.3,626.5 Z" fill="#444" stroke="#1a1a1a" stroke-width="0.6"/>
<ellipse cx="247.4" cy="609.8" rx="1.9" ry="1.3" fill="#1a1a1a"/>
<g transform="translate(280 624) rotate(-27.6)"><path d="M2,-3.4 L17,-3.2 L21,-1.8 L23,0 L21,1.8 L17,3.2 L2,3.4 Z" fill="#1a1a1a"/><line x1="6.0" y1="-2.6" x2="6.8" y2="2.6" stroke="#bbb" stroke-width="0.45"/><line x1="8.8" y1="-2.6" x2="9.600000000000001" y2="2.6" stroke="#bbb" stroke-width="0.45"/><line x1="11.6" y1="-2.6" x2="12.4" y2="2.6" stroke="#bbb" stroke-width="0.45"/><line x1="14.399999999999999" y1="-2.6" x2="15.2" y2="2.6" stroke="#bbb" stroke-width="0.45"/><line x1="17.2" y1="-2.6" x2="18.0" y2="2.6" stroke="#bbb" stroke-width="0.45"/><ellipse cx="0" cy="0" rx="3.4" ry="5.6" fill="#fff" stroke="#1a1a1a" stroke-width="1.4"/><path d="M-1.8,-2.6 L1.8,2.6 M-1.8,2.6 L1.8,-2.6" stroke="#1a1a1a" stroke-width="1.3"/></g>
<g transform="translate(316.5 630.3) rotate(-29.7)"><path d="M2,-2.8 L30,-2.6 L34.5,-1.2 L36,0 L34.5,1.2 L30,2.6 L2,2.8 Z" fill="#1a1a1a"/><line x1="5" y1="-2.2" x2="5.8" y2="2.2" stroke="#bbb" stroke-width="0.45"/><line x1="8" y1="-2.2" x2="8.8" y2="2.2" stroke="#bbb" stroke-width="0.45"/><line x1="11" y1="-2.2" x2="11.8" y2="2.2" stroke="#bbb" stroke-width="0.45"/><line x1="14" y1="-2.2" x2="14.8" y2="2.2" stroke="#bbb" stroke-width="0.45"/><line x1="17" y1="-2.2" x2="17.8" y2="2.2" stroke="#bbb" stroke-width="0.45"/><line x1="20" y1="-2.2" x2="20.8" y2="2.2" stroke="#bbb" stroke-width="0.45"/><line x1="23" y1="-2.2" x2="23.8" y2="2.2" stroke="#bbb" stroke-width="0.45"/><line x1="26" y1="-2.2" x2="26.8" y2="2.2" stroke="#bbb" stroke-width="0.45"/><line x1="29" y1="-2.2" x2="29.8" y2="2.2" stroke="#bbb" stroke-width="0.45"/><ellipse cx="0" cy="0" rx="3.2" ry="5.2" fill="#fff" stroke="#1a1a1a" stroke-width="1.4"/><path d="M-1.7,-2.4 L1.7,2.4 M-1.7,2.4 L1.7,-2.4" stroke="#1a1a1a" stroke-width="1.3"/></g>
<g transform="translate(359 629.6) rotate(-30.2)"><rect x="36" y="-3.6" width="14" height="7.2" rx="2" fill="#fff" stroke="#1a1a1a" stroke-width="1.1"/><line x1="38.0" y1="-3.6" x2="39.0" y2="3.6" stroke="#1a1a1a" stroke-width="1.2"/><line x1="40.4" y1="-3.6" x2="41.4" y2="3.6" stroke="#1a1a1a" stroke-width="1.2"/><line x1="42.8" y1="-3.6" x2="43.8" y2="3.6" stroke="#1a1a1a" stroke-width="1.2"/><line x1="45.2" y1="-3.6" x2="46.2" y2="3.6" stroke="#1a1a1a" stroke-width="1.2"/><line x1="47.6" y1="-3.6" x2="48.6" y2="3.6" stroke="#1a1a1a" stroke-width="1.2"/><rect x="7" y="-4.7" width="30" height="9.4" fill="#fff" stroke="#1a1a1a" stroke-width="1.1"/><ellipse cx="7" cy="0" rx="1.8" ry="4.7" fill="#fff" stroke="#1a1a1a" stroke-width="1.0"/><rect x="3" y="-2" width="4" height="4" fill="#fff" stroke="#1a1a1a" stroke-width="0.9"/><ellipse cx="0" cy="0" rx="3.6" ry="4.4" fill="#fff" stroke="#1a1a1a" stroke-width="1.2"/><line x1="-2" y1="-1.5" x2="2" y2="1.5" stroke="#1a1a1a" stroke-width="0.8"/><line x1="-2" y1="1.5" x2="2" y2="-1.5" stroke="#1a1a1a" stroke-width="0.8"/></g>
<path d="M421.3,613 L437.3,613 L437.5,621.5 Q429.5,624.5 421.3,621.5 Z" fill="#1e1e1e"/>
<rect x="423.8" y="616.2" width="2.4" height="3.6" fill="#eee"/>
<rect x="427.6" y="616.2" width="2.4" height="3.6" fill="#eee"/>
<rect x="431.4" y="616.2" width="2.4" height="3.6" fill="#eee"/>
<path d="M437.5,616 Q439.5,619 437.5,622" fill="none" stroke="#1a1a1a" stroke-width="1.2"/>
<path d="M422,623.5 Q430,627.5 437.8,622.8" fill="none" stroke="#1a1a1a" stroke-width="1.6"/>
<path d="M424,627 Q431,630.5 438,626" fill="none" stroke="#1a1a1a" stroke-width="1.6"/>
<path d="M427.5,630.5 Q433,632.8 437.5,629.5" fill="none" stroke="#1a1a1a" stroke-width="1.5"/>
<path d="M419.8,627.5 L423.5,624 L424.5,626.5 Z" fill="#1a1a1a" stroke="#1a1a1a" stroke-width="0.8"/>
<path d="M438,622.5 Q439.5,626.5 437.5,630" fill="none" stroke="#1a1a1a" stroke-width="1.1"/>
<ellipse cx="428.9" cy="611.1" rx="9.3" ry="5.5" fill="#fff" stroke="#1a1a1a" stroke-width="1.5"/>
<path d="M424.8,608.8 L433,613.5 M424.8,613.5 L433,608.8" fill="none" stroke="#1a1a1a" stroke-width="2.1" stroke-linecap="round"/>
<ellipse cx="428.9" cy="611.1" rx="1.8" ry="1.2" fill="#1a1a1a"/>
<ellipse cx="495.3" cy="616.5" rx="13.2" ry="7.9" fill="#fff" stroke="#1a1a1a" stroke-width="1.1"/>
<ellipse cx="495.3" cy="615.2" rx="13.0" ry="7.6" fill="#fff" stroke="#1a1a1a" stroke-width="1.1"/>
<g transform="translate(544.1 617.7) rotate(-28.7)"><rect x="0" y="-2.9" width="21" height="5.8" fill="#fff" stroke="#1a1a1a" stroke-width="1.2"/><line x1="1" y1="-1.2" x2="21" y2="-1.2" stroke="#1a1a1a" stroke-width="0.9"/><line x1="1" y1="1" x2="21" y2="1" stroke="#1a1a1a" stroke-width="0.6"/><ellipse cx="21" cy="0" rx="1.5" ry="2.9" fill="#fff" stroke="#1a1a1a" stroke-width="1.1"/><ellipse cx="0" cy="0" rx="1.7" ry="2.9" fill="#fff" stroke="#1a1a1a" stroke-width="1.2"/></g>
<polygon points="578.8,593.7 663.7,618.3 666,617.5 671.3,621.7 671.3,632.7 666.5,631.5 663.7,628.5 578.8,601.3" fill="#fff" stroke="#1a1a1a" stroke-width="1.5" stroke-linejoin="round" />
<line x1="579.5" y1="597.5" x2="664" y2="622" stroke="#1a1a1a" stroke-width="0.9" />
<line x1="579.5" y1="599.5" x2="664" y2="625.5" stroke="#1a1a1a" stroke-width="1.1" />
<rect x="583.5" y="597.1" width="2.2" height="1.8" fill="#1a1a1a"/>
<rect x="591" y="599.6" width="2.2" height="1.8" fill="#1a1a1a"/>
<rect x="598" y="601.6" width="2.2" height="1.8" fill="#1a1a1a"/>
<rect x="606.5" y="604.6" width="2.2" height="1.8" fill="#1a1a1a"/>
<rect x="634" y="612.6" width="2.2" height="1.8" fill="#1a1a1a"/>
<polygon points="664.5,623.5 670.5,622.5 670.5,631.5 665.5,630" fill="#fff" stroke="#1a1a1a" stroke-width="1.1" stroke-linejoin="round" />
<line x1="667.5" y1="624.5" x2="667.5" y2="629.5" stroke="#1a1a1a" stroke-width="1.6" />
<polygon points="579.6,609.8 671.3,638.7 671,641.5 668.8,647.2 575.4,616.6" fill="#fff" stroke="#1a1a1a" stroke-width="1.4" stroke-linejoin="round" />
<line x1="579.6" y1="609.8" x2="671.3" y2="638.7" stroke="#1a1a1a" stroke-width="1.8" />
<line x1="583" y1="618.3" x2="667" y2="643.5" stroke="#1a1a1a" stroke-width="1.0" />
<line x1="579" y1="613.5" x2="668" y2="641.5" stroke="#1a1a1a" stroke-width="0.8" />
<line x1="590" y1="620.5" x2="660" y2="641.5" stroke="#999" stroke-width="0.8"/>
</svg></body></html>
